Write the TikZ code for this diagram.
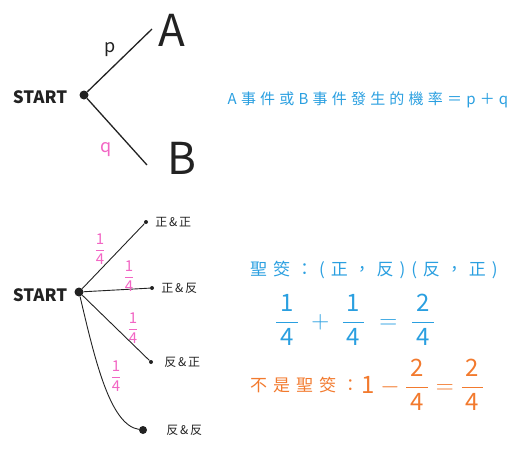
\documentclass[tikz,border=0pt]{standalone}
\usepackage{fontspec}
\usepackage{amsmath}
\setmainfont{Noto Sans CJK TC}
\usetikzlibrary{positioning}
\definecolor{probblue}{HTML}{2A9FE0}
\definecolor{probpink}{HTML}{F266C4}
\definecolor{probinkk}{HTML}{222222}
\definecolor{proborange}{HTML}{F27A2E}
\newcommand{\qfrac}[2]{\dfrac{\text{#1}}{\text{#2}}}

\begin{document}
\begin{tikzpicture}[x=1pt,y=-1pt,
  start/.style={font=\fontsize{17}{17}\selectfont\bfseries, text=probinkk, inner sep=0pt},
  root/.style={circle, fill=probinkk, inner sep=0pt, minimum size=9pt},
  leaf/.style={circle, fill=probinkk, inner sep=0pt, minimum size=4pt},
  bigleaf/.style={circle, fill=probinkk, inner sep=0pt, minimum size=8pt},
  branch/.style={draw=probinkk, line width=1.3pt},
  thin/.style={draw=probinkk, line width=0.9pt},
  outcome/.style={font=\fontsize{12}{12}\selectfont\addfontfeatures{LetterSpace=15}, text=probinkk, anchor=west, inner sep=1pt},
  big/.style={font=\fontsize{44}{44}\selectfont, text=probinkk, inner sep=0pt},
  prob/.style={text=probpink, inner sep=0pt, font=\fontsize{15}{15}\selectfont},
  note/.style={text=probblue, inner sep=0pt, font=\fontsize{15}{15}\selectfont\addfontfeatures{LetterSpace=28}},
  wide/.style={font=\fontsize{17}{17}\selectfont\addfontfeatures{LetterSpace=35}},
  eqn/.style={inner sep=0pt, font=\fontsize{24}{24}\selectfont}
]
\useasboundingbox (0,0) rectangle (518,450);

% top tree: two events
\node[start] (s1) at (40,97) {START};
\node[root] (r1) at (84,95) {};
\coordinate (ea) at (152,29);
\coordinate (eb) at (147,165);
\node[big] (a) at (172,30) {A};
\node[big] (b) at (182,158) {B};
\draw[branch] (r1) -- (ea);
\draw[branch] (r1) -- (eb);
\node[text=probinkk, font=\fontsize{18}{18}\selectfont, inner sep=0pt] (p) at (110,50) {p};
\node[text=probpink, font=\fontsize{18}{18}\selectfont, inner sep=0pt] (q) at (106,150) {q};
\node[note] (sum) at (368,100) {A事件或B事件發生的機率＝p＋q};

% bottom tree: two coins
\node[start] (s2) at (40,295) {START};
\node[root] (r2) at (79,292) {};
\node[leaf] (l1) at (146,222) {};
\node[leaf] (l2) at (152,288) {};
\node[leaf] (l3) at (151,362) {};
\node[bigleaf] (l4) at (143,430) {};
\node[outcome] (o1) at (l1.east) [xshift=6pt] {正\&正};
\node[outcome] (o2) at (l2.east) [xshift=6pt] {正\&反};
\node[outcome] (o3) at (l3.east) [xshift=10pt] {反\&正};
\node[outcome] (o4) at (l4.east) [xshift=18pt] {反\&反};
\draw[thin] (r2) -- (l1);
\draw[thin] (r2) -- (l2);
\draw[thin] (r2) -- (l3);
\draw[thin] (r2) .. controls (95,360) and (110,425) .. (l4);
\node[prob] at (100,249) {$\qfrac{1}{4}$};
\node[prob] at (129,276) {$\qfrac{1}{4}$};
\node[prob] at (133,328) {$\qfrac{1}{4}$};
\node[prob] at (116,376) {$\qfrac{1}{4}$};

% right side: worked sums
\node[note, wide, anchor=west] (holy) at (250,270) {聖筊：(正，反)(反，正)};
\node[eqn, text=probblue, anchor=west] (add) at (275,320) {$\qfrac{\,1\,}{\,4\,}\;+\;\qfrac{\,1\,}{\,4\,}\;=\;\qfrac{\,2\,}{\,4\,}$};
\node[note, wide, text=proborange, anchor=west] (nothol) at (250,385) {不是聖筊：};
\node[eqn, text=proborange, right=2pt of nothol] (rest) {$\text{1}-\qfrac{\,2\,}{\,4\,}=\qfrac{\,2\,}{\,4\,}$};
\end{tikzpicture}
\end{document}
